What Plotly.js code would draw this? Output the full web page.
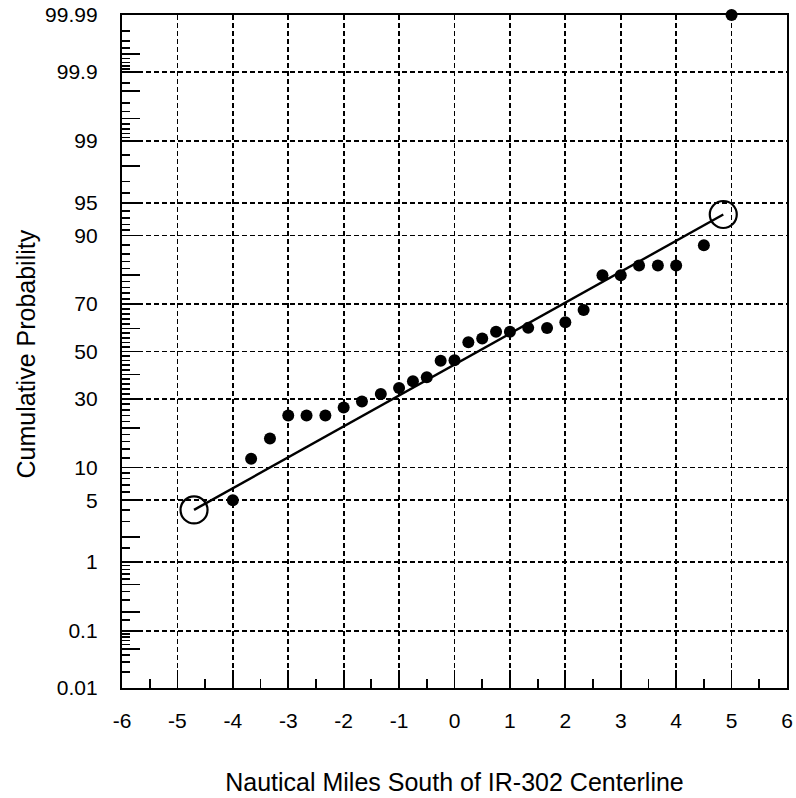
<!DOCTYPE html>
<html>
<head>
<meta charset="utf-8">
<script src="https://cdn.plot.ly/plotly-3.0.1.min.js"></script>
<style>
  html, body { margin: 0; padding: 0; background: #fff; }
  #chart { width: 796px; height: 798px; }
</style>
</head>
<body>
<div id="chart"></div>
<script>
// ---- Data (percent cumulative probability vs nautical miles) ----
const milesSouth = [-4, -3.67, -3.33, -3, -2.67, -2.33, -2, -1.67, -1.33, -1, -0.75, -0.5, -0.25, 0, 0.25, 0.5, 0.75, 1, 1.33, 1.67, 2, 2.33, 2.67, 3, 3.33, 3.67, 4, 4.5, 5];
const cumProbPct = [5, 11.8, 16.8, 24, 24, 24, 26.8, 29, 31.9, 34.3, 37.1, 38.8, 45.9, 46.1, 54.1, 55.7, 58.6, 58.6, 60.3, 60.2, 62.7, 67.7, 80, 80, 82.9, 82.9, 82.9, 88, 99.99];

const fitMiles = [-4.7, 4.85];
const fitProbPct = [4.0, 93.5];

const xTickVals = [-6, -5, -4, -3, -2, -1, 0, 1, 2, 3, 4, 5, 6];
const xMinorVals = [-5.5, -4.5, -3.5, -2.5, -1.5, -0.5, 0.5, 1.5, 2.5, 3.5, 4.5, 5.5];

const yTickPct = [0.01, 0.1, 1, 5, 10, 30, 50, 70, 90, 95, 99, 99.9, 99.99];
const yTickText = ['0.01', '0.1', '1', '5', '10', '30', '50', '70', '90', '95', '99', '99.9', '99.99'];
const yMediumPct = [0.05, 0.2, 0.5, 2, 20, 40, 60, 80, 98, 99.5, 99.8, 99.95];
const yShortPct = [0.02, 0.03, 0.04, 0.06, 0.07, 0.08, 0.09, 0.15, 0.3, 0.4, 0.6, 0.7, 0.8, 0.9,
  1.5, 3, 4, 6, 7, 8, 9, 12, 14, 16, 18, 22, 24, 26, 28, 32, 34, 36, 38, 42, 44, 46, 48,
  52, 54, 56, 58, 62, 64, 66, 68, 72, 74, 76, 78, 82, 84, 86, 88, 91, 92, 93, 94, 96, 97, 98.5,
  99.1, 99.2, 99.3, 99.4, 99.6, 99.7, 99.85, 99.91, 99.92, 99.93, 99.94, 99.96, 99.97, 99.98];

const xTitle = 'Nautical Miles South of IR-302 Centerline';
const yTitle = 'Cumulative Probability';

// ---- Normal-probability (probit) scale ----
function probit(p) {
  const a = [-3.969683028665376e+01, 2.209460984245205e+02, -2.759285104469687e+02, 1.383577518672690e+02, -3.066479806614716e+01, 2.506628277459239e+00];
  const b = [-5.447609879822406e+01, 1.615858368580409e+02, -1.556989798598866e+02, 6.680131188771972e+01, -1.328068155288572e+01];
  const c = [-7.784894002430293e-03, -3.223964580411365e-01, -2.400758277161838e+00, -2.549732539343734e+00, 4.374664141464968e+00, 2.938163982698783e+00];
  const d = [7.784695709041462e-03, 3.224671290700398e-01, 2.445134137142996e+00, 3.754408661907416e+00];
  const pl = 0.02425, ph = 1 - pl;
  let q, r;
  if (p < pl) {
    q = Math.sqrt(-2 * Math.log(p));
    return (((((c[0]*q+c[1])*q+c[2])*q+c[3])*q+c[4])*q+c[5]) / ((((d[0]*q+d[1])*q+d[2])*q+d[3])*q+1);
  } else if (p <= ph) {
    q = p - 0.5; r = q * q;
    return (((((a[0]*r+a[1])*r+a[2])*r+a[3])*r+a[4])*r+a[5])*q / (((((b[0]*r+b[1])*r+b[2])*r+b[3])*r+b[4])*r+1);
  } else {
    q = Math.sqrt(-2 * Math.log(1 - p));
    return -(((((c[0]*q+c[1])*q+c[2])*q+c[3])*q+c[4])*q+c[5]) / ((((d[0]*q+d[1])*q+d[2])*q+d[3])*q+1);
  }
}
const z = pct => probit(pct / 100);
const yRange = [z(0.01), z(99.99)];

const FONT = 'Liberation Sans, Arial, sans-serif';

const traces = [
  {
    x: milesSouth,
    y: cumProbPct.map(z),
    type: 'scatter',
    mode: 'markers',
    marker: { color: '#000', size: 12 },
    cliponaxis: false,
    hoverinfo: 'x+text',
    text: cumProbPct.map(v => v + '%'),
    showlegend: false
  },
  {
    x: fitMiles,
    y: fitProbPct.map(z),
    type: 'scatter',
    mode: 'lines+markers',
    line: { color: '#000', width: 2.4 },
    marker: { symbol: 'circle-open', size: 27, color: '#000', line: { width: 2.2, color: '#000' } },
    yaxis: 'y2',
    cliponaxis: false,
    showlegend: false
  }
];

const dashGrid = '5px,3px';

const layout = {
  width: 796,
  height: 798,
  margin: { l: 122, r: 9, t: 15, b: 110 },
  paper_bgcolor: '#fff',
  plot_bgcolor: '#fff',
  font: { family: FONT, color: '#000', size: 21 },
  showlegend: false,
  xaxis: {
    range: [-6, 6],
    tickmode: 'array',
    tickvals: xTickVals,
    ticktext: xTickVals.map(String),
    ticks: 'inside',
    ticklen: 18,
    tickwidth: 1.8,
    tickcolor: '#000',
    ticklabelstandoff: 13,
    showgrid: true,
    gridcolor: '#000',
    gridwidth: 1.7,
    griddash: dashGrid,
    zeroline: false,
    showline: true,
    linecolor: '#000',
    linewidth: 2.2,
    mirror: true,
    tickfont: { family: FONT, size: 21, color: '#000' },
    minor: { tickmode: 'array', tickvals: xMinorVals, ticks: 'inside', ticklen: 9, tickwidth: 1.8, tickcolor: '#000', showgrid: false },
    title: { text: xTitle, font: { family: FONT, size: 25, color: '#000' }, standoff: 42 }
  },
  yaxis: {
    range: yRange,
    tickmode: 'array',
    tickvals: yTickPct.map(z),
    ticktext: yTickText,
    ticks: 'inside',
    ticklen: 18,
    tickwidth: 1.8,
    tickcolor: '#000',
    ticklabelstandoff: 18,
    showgrid: true,
    gridcolor: '#000',
    gridwidth: 1.7,
    griddash: dashGrid,
    zeroline: false,
    showline: true,
    linecolor: '#000',
    linewidth: 2.2,
    mirror: true,
    tickfont: { family: FONT, size: 21, color: '#000' },
    minor: { tickmode: 'array', tickvals: yShortPct.map(z), ticks: 'inside', ticklen: 8, tickwidth: 1.6, tickcolor: '#000', showgrid: false }
  },
  yaxis2: {
    overlaying: 'y',
    side: 'left',
    range: yRange,
    tickmode: 'array',
    tickvals: yMediumPct.map(z),
    ticks: 'inside',
    ticklen: 18,
    tickwidth: 1.8,
    tickcolor: '#000',
    showticklabels: false,
    showgrid: false,
    zeroline: false,
    showline: false
  },
  annotations: [{
    text: yTitle,
    xref: 'paper', yref: 'paper',
    x: 0, y: 0.5,
    xanchor: 'center', yanchor: 'middle',
    xshift: -97, yshift: -3,
    textangle: -90,
    showarrow: false,
    font: { family: FONT, size: 25, color: '#000' }
  }]
};

Plotly.newPlot('chart', traces, layout, { displayModeBar: false, staticPlot: true });
</script>
</body>
</html>
